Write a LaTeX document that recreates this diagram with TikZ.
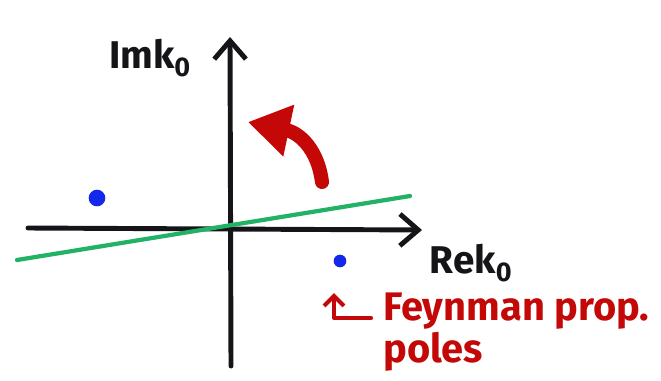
\documentclass[tikz,border=0pt]{standalone}
\usepackage{fontspec}
\setmainfont{Fira Sans}
\usetikzlibrary{arrows.meta}
\definecolor{penred}{RGB}{196,8,8}
\definecolor{pengreen}{RGB}{34,178,102}
\definecolor{penblue}{RGB}{20,40,235}
\definecolor{penblack}{RGB}{20,20,25}
\tikzset{
  axis/.style={draw=penblack, line width=4.2pt, line cap=round,
    -{Straight Barb[length=0.55cm, width=0.95cm, line width=4.2pt]}},
  pole/.style={circle, fill=penblue, inner sep=0pt},
  blacklabel/.style={text=penblack, font=\fontsize{33}{38}\selectfont\bfseries, inner sep=0pt},
  redlabel/.style={text=penred, font=\fontsize{34}{38}\selectfont\bfseries, inner sep=0pt, anchor=west},
}
\begin{document}
\begin{tikzpicture}[x=0.03cm, y=-0.03cm]
\useasboundingbox (0,0) rectangle (661,380);
% axes
\coordinate (vb) at (231,366);
\coordinate (vt) at (230,37);
\coordinate (hl) at (28,228);
\coordinate (hr) at (422,230);
\draw[axis] (vb) -- (vt);
\draw[axis] (hl) -- (hr);
% green rotated contour line
\coordinate (gl) at (17,260);
\coordinate (gr) at (410,196);
\draw[pengreen, line width=3.6pt, line cap=round] (gl) -- (gr);
% poles
\node[pole, minimum size=0.5cm] (p1) at (97,198) {};
\node[pole, minimum size=0.38cm] (p2) at (340,261) {};
% red rotation arrow
\coordinate (rs) at (322,182);
\coordinate (re) at (248,122);
\draw[penred, line width=12pt, line cap=round,
  -{Triangle[length=1.25cm, width=1.5cm]}]
  (rs) .. controls (318,150) and (300,133) .. (re);
% labels
\node[blacklabel] (im) at (150,58) {Imk\textsubscript{0}};
\node[blacklabel] (re0) at (471,263) {Rek\textsubscript{0}};
% red hook arrow
\coordinate (ht) at (334,293);
\coordinate (hc) at (334,318);
\coordinate (he) at (371,318);
\draw[penred, line width=3.5pt, line cap=round, line join=round,
  {Straight Barb[length=0.3cm, width=0.6cm]}-] (ht) -- (hc) -- (he);
\node[redlabel] (fp) at (383,311) {Feynman prop.};
\node[redlabel] (pl) at (383,352) {poles};
\end{tikzpicture}
\end{document}
